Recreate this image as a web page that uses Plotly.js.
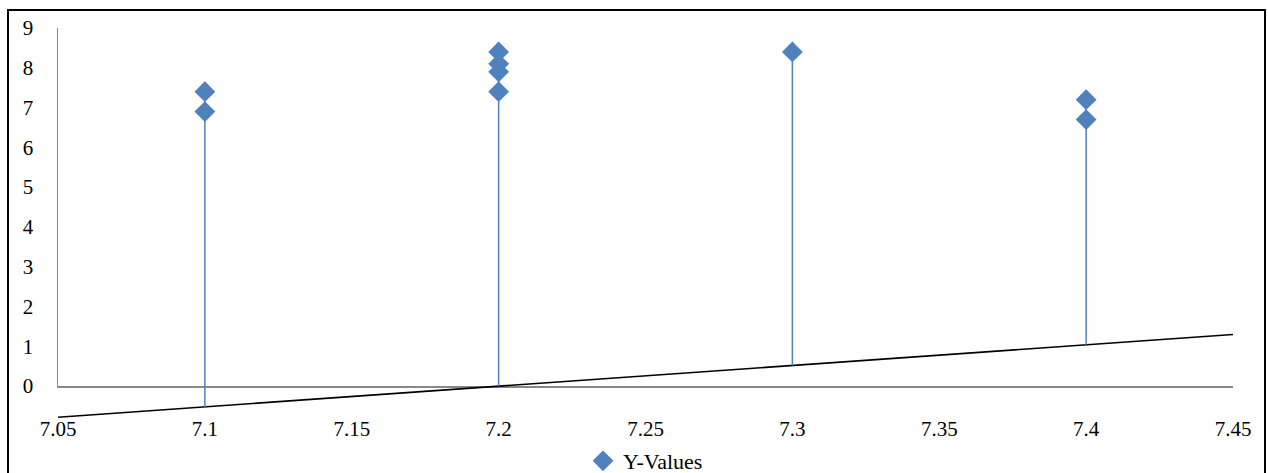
<!DOCTYPE html>
<html>
<head>
<meta charset="utf-8">
<script src="https://cdn.plot.ly/plotly-3.0.1.min.js"></script>
<style>html,body{margin:0;padding:0;background:#fff;}#chart{width:1268px;height:473px;}</style>
</head>
<body>
<div id="chart"></div>
<script>
// Data
var xValues = [7.1, 7.1, 7.2, 7.2, 7.2, 7.2, 7.3, 7.4, 7.4];
var yValues = [7.4, 6.9, 8.4, 8.1, 7.9, 7.4, 8.4, 7.2, 6.7];
var seriesName = 'Y-Values';
// Trend line end points
var trendX = [7.05, 7.45];
var trendY = [-0.78, 1.3];
var xTicks = [7.05, 7.1, 7.15, 7.2, 7.25, 7.3, 7.35, 7.4, 7.45];
var yTicks = [0, 1, 2, 3, 4, 5, 6, 7, 8, 9];

function trendAt(x) {
  return trendY[0] + (trendY[1] - trendY[0]) * (x - trendX[0]) / (trendX[1] - trendX[0]);
}

// Drop lines from the highest point at each x down to the trend line
var dropX = [], dropY = [];
var uniq = [];
xValues.forEach(function (x) { if (uniq.indexOf(x) < 0) uniq.push(x); });
uniq.forEach(function (x) {
  var top = -Infinity;
  xValues.forEach(function (xx, i) { if (xx === x && yValues[i] > top) top = yValues[i]; });
  dropX.push(x, x, null);
  dropY.push(top, trendAt(x), null);
});

var FAM = 'Liberation Serif';
function mkFont(s) { return {family: FAM, size: s || 21, color: '#000'}; }

var traces = [
  {x: [null], y: [null], xaxis: 'x', yaxis: 'y', mode: 'markers', showlegend: false, hoverinfo: 'skip'},
  {x: trendX, y: trendY, xaxis: 'x', yaxis: 'y2', mode: 'lines', line: {color: '#000', width: 1.6}, showlegend: false, hoverinfo: 'skip'},
  {x: dropX, y: dropY, xaxis: 'x', yaxis: 'y2', mode: 'lines', line: {color: '#4F81BD', width: 1.5}, showlegend: false, hoverinfo: 'skip', connectgaps: false},
  {x: xValues, y: yValues, xaxis: 'x', yaxis: 'y2', mode: 'markers', name: seriesName, cliponaxis: false,
   marker: {symbol: 'diamond', size: 16, color: '#4F81BD'}}
];

var plotH = 396; // 473 - 28 - 49
var zeroFrac = (plotH - (386 - 28)) / plotH;

var layout = {
  width: 1268, height: 473,
  margin: {l: 58, r: 35, t: 28, b: 49, autoexpand: false},
  paper_bgcolor: '#fff', plot_bgcolor: 'rgba(0,0,0,0)',
  font: mkFont(),
  showlegend: true,
  legend: {orientation: 'h', x: 0.5, xanchor: 'center', y: (424 - 461) / plotH, yanchor: 'middle',
           font: mkFont(22), bgcolor: 'rgba(0,0,0,0)', itemwidth: 14},
  xaxis: {range: [7.05, 7.45], tickvals: xTicks, ticktext: xTicks.map(String), showgrid: false, zeroline: false,
          showline: true, linecolor: '#888', linewidth: 1.5, ticks: '', anchor: 'y', ticklabelstandoff: 23,
          tickfont: mkFont(), fixedrange: true, automargin: false},
  yaxis: {domain: [zeroFrac, 1], range: [0, 9], tickvals: yTicks, showgrid: false, zeroline: false,
          showline: true, linecolor: '#888', linewidth: 1.5, ticks: '', ticklabelstandoff: 19,
          tickfont: mkFont(), anchor: 'x', fixedrange: true, automargin: false},
  yaxis2: {domain: [0, 1], range: [-0.95, 9], visible: false, anchor: 'x', fixedrange: true},
  shapes: [
    {type: 'rect', xref: 'paper', yref: 'paper',
     x0: (8 - 58) / 1175, x1: (1265 - 58) / 1175, y0: (424 - 490) / plotH, y1: (424 - 10) / plotH,
     line: {color: '#000', width: 2}, fillcolor: 'rgba(0,0,0,0)'}
  ]
};

Plotly.newPlot('chart', traces, layout, {displayModeBar: false, staticPlot: true});
</script>
</body>
</html>
